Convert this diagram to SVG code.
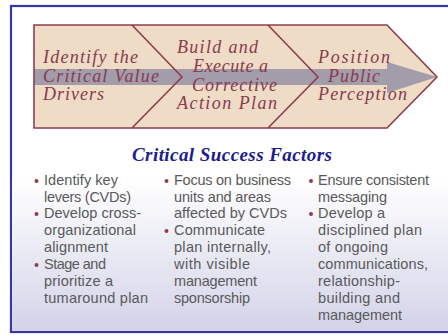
<svg xmlns="http://www.w3.org/2000/svg" width="448" height="335" viewBox="0 0 448 335">
  <defs>
    <linearGradient id="panelShade" x1="0" y1="0" x2="0" y2="1" gradientUnits="objectBoundingBox">
      <stop offset="0" stop-color="#ffffff"/>
      <stop offset="1" stop-color="#d3d3e9"/>
    </linearGradient>
    <style>
      .frame { fill: #ffffff; stroke: #3838a4; stroke-width: 2.2; }
      .chev { fill: #efdcc7; stroke: none; }
      .chevLine { fill: none; stroke: #8e3d4e; stroke-width: 1.6; stroke-linejoin: miter; }
      .band { fill: #a29cab; }
      .step { font-family: "Liberation Serif", "DejaVu Serif", serif; font-style: italic; font-size: 18px; fill: #8a3a4d; }
      .title { font-family: "Liberation Serif", "DejaVu Serif", serif; font-style: italic; font-weight: bold; font-size: 19px; fill: #1c1c8c; }
      .item { font-family: "Liberation Sans", "DejaVu Sans", sans-serif; font-size: 14.5px; fill: #595959; }
      .dot { fill: #8e3d4e; }
    </style>
  </defs>

  <!-- outer frame with lower shaded area -->
  <g id="frame">
    <rect class="frame" x="11" y="6" width="450" height="326"/>
    <rect x="12.1" y="178" width="437" height="152.9" fill="url(#panelShade)"/>
  </g>

  <!-- process chevron -->
  <g id="chevron">
    <polygon class="chev" points="34,25 387,25 437,77 387,128 34,128"/>
    <polygon class="band" points="34,69 387,69 387,62 437,77 387,93 387,85 34,85"/>
    <polygon class="chevLine" points="34,25 387,25 437,77 387,128 34,128"/>
  </g>

  <g id="connectors">
    <polyline class="chevLine" points="132,25 182,77 132,128"/>
    <polyline class="chevLine" points="268,25 318,77 268,128"/>
  </g>

  <g id="step1">
    <text class="step" x="43" y="63" textLength="95" lengthAdjust="spacing">Identify the</text>
    <text class="step" x="43" y="82" textLength="116" lengthAdjust="spacing">Critical Value</text>
    <text class="step" x="43" y="100" textLength="61" lengthAdjust="spacing">Drivers</text>
  </g>

  <g id="step2">
    <text class="step" x="177" y="53" textLength="81" lengthAdjust="spacing">Build and</text>
    <text class="step" x="193" y="72" textLength="75" lengthAdjust="spacing">Execute a</text>
    <text class="step" x="192" y="91" textLength="85" lengthAdjust="spacing">Corrective</text>
    <text class="step" x="177" y="109" textLength="100" lengthAdjust="spacing">Action Plan</text>
  </g>

  <g id="step3">
    <text class="step" x="318" y="63" textLength="72" lengthAdjust="spacing">Position</text>
    <text class="step" x="328" y="82" textLength="52" lengthAdjust="spacing">Public</text>
    <text class="step" x="318" y="100" textLength="89" lengthAdjust="spacing">Perception</text>
  </g>

  <g id="title">
    <text class="title" x="132" y="161" textLength="200" lengthAdjust="spacing">Critical Success Factors</text>
  </g>

  <g id="factors1">
    <circle class="dot" cx="36.5" cy="181" r="2"/>
    <text class="item" x="44" y="185" textLength="74" lengthAdjust="spacing">Identify key</text>
    <text class="item" x="44" y="202" textLength="87" lengthAdjust="spacing">levers (CVDs)</text>
    <circle class="dot" cx="36.5" cy="214" r="2"/>
    <text class="item" x="44" y="218" textLength="97" lengthAdjust="spacing">Develop cross-</text>
    <text class="item" x="44" y="235" textLength="92" lengthAdjust="spacing">organizational</text>
    <text class="item" x="44" y="252" textLength="64" lengthAdjust="spacing">alignment</text>
    <circle class="dot" cx="36.5" cy="265" r="2"/>
    <text class="item" x="44" y="269" textLength="62" lengthAdjust="spacing">Stage and</text>
    <text class="item" x="44" y="286" textLength="69" lengthAdjust="spacing">prioritize a</text>
    <text class="item" x="44" y="303" textLength="104" lengthAdjust="spacing">tumaround plan</text>
  </g>

  <g id="factors2">
    <circle class="dot" cx="166.5" cy="181" r="2"/>
    <text class="item" x="174" y="185" textLength="117" lengthAdjust="spacing">Focus on business</text>
    <text class="item" x="174" y="202" textLength="97" lengthAdjust="spacing">units and areas</text>
    <text class="item" x="174" y="218" textLength="113" lengthAdjust="spacing">affected by CVDs</text>
    <circle class="dot" cx="166.5" cy="231" r="2"/>
    <text class="item" x="174" y="235" textLength="91" lengthAdjust="spacing">Communicate</text>
    <text class="item" x="174" y="252" textLength="97" lengthAdjust="spacing">plan internally,</text>
    <text class="item" x="174" y="269" textLength="76" lengthAdjust="spacing">with visible</text>
    <text class="item" x="174" y="286" textLength="83" lengthAdjust="spacing">management</text>
    <text class="item" x="174" y="303" textLength="76" lengthAdjust="spacing">sponsorship</text>
  </g>

  <g id="factors3">
    <circle class="dot" cx="311" cy="181" r="2"/>
    <text class="item" x="318" y="185" textLength="111" lengthAdjust="spacing">Ensure consistent</text>
    <text class="item" x="318" y="202" textLength="69" lengthAdjust="spacing">messaging</text>
    <circle class="dot" cx="311" cy="214" r="2"/>
    <text class="item" x="318" y="218" textLength="67" lengthAdjust="spacing">Develop a</text>
    <text class="item" x="318" y="235" textLength="104" lengthAdjust="spacing">disciplined plan</text>
    <text class="item" x="318" y="252" textLength="70" lengthAdjust="spacing">of ongoing</text>
    <text class="item" x="318" y="269" textLength="110" lengthAdjust="spacing">communications,</text>
    <text class="item" x="318" y="286" textLength="82" lengthAdjust="spacing">relationship-</text>
    <text class="item" x="318" y="303" textLength="82" lengthAdjust="spacing">building and</text>
    <text class="item" x="318" y="320" textLength="84" lengthAdjust="spacing">management</text>
  </g>
</svg>
